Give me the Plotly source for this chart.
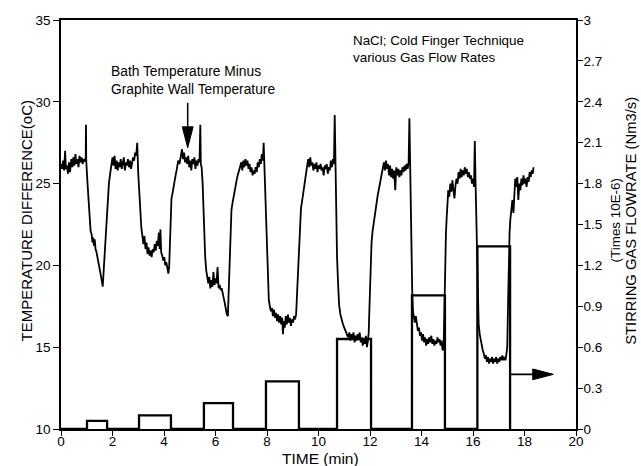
import plotly.graph_objects as go

# ---------------- data ----------------
time_min = [
    0.00, 0.04, 0.08, 0.12, 0.16, 0.19, 0.23, 0.27, 0.31, 0.35, 0.40, 0.44, 0.48, 0.52, 0.56, 0.60,
    0.64, 0.68, 0.72, 0.76, 0.80, 0.84, 0.88, 0.92, 0.96, 0.97, 0.98,
    1.03, 1.07, 1.11, 1.15, 1.19, 1.22, 1.25, 1.28, 1.31, 1.34, 1.38, 1.42, 1.46, 1.50, 1.54, 1.58,
    1.62, 1.65, 1.69, 1.72, 1.75, 1.78, 1.82, 1.86, 1.90, 1.95, 2.00,
    2.04, 2.08, 2.12, 2.16, 2.20, 2.24, 2.28, 2.32, 2.36, 2.40, 2.44, 2.48, 2.52, 2.56, 2.60, 2.64,
    2.68, 2.72, 2.76, 2.80, 2.84, 2.88, 2.92, 2.96,
    3.00, 3.04, 3.08, 3.12, 3.16, 3.20, 3.24, 3.28, 3.32, 3.36, 3.40, 3.44, 3.48, 3.52, 3.56, 3.60,
    3.64, 3.68, 3.72, 3.76, 3.80, 3.83, 3.86, 3.89, 3.93, 3.97, 4.01, 4.05, 4.09, 4.13, 4.17, 4.20,
    4.23, 4.26, 4.29, 4.33, 4.37, 4.41, 4.45, 4.50, 4.55, 4.60, 4.65, 4.70,
    4.74, 4.78, 4.82, 4.86, 4.90, 4.94, 4.98, 5.02, 5.06, 5.10, 5.14, 5.18, 5.22, 5.26, 5.30, 5.34,
    5.38, 5.41, 5.43,
    5.46, 5.50, 5.53, 5.56, 5.60, 5.64, 5.68, 5.72, 5.76, 5.80, 5.84, 5.88, 5.92, 5.96, 6.00, 6.04,
    6.08, 6.12, 6.16, 6.20, 6.24, 6.28, 6.32, 6.36, 6.40, 6.44, 6.48,
    6.52, 6.56, 6.59, 6.62, 6.66, 6.70, 6.74, 6.78, 6.82, 6.86, 6.90, 6.95,
    7.00, 7.04, 7.08, 7.12, 7.16, 7.20, 7.24, 7.28, 7.32, 7.36, 7.40, 7.44, 7.48, 7.52, 7.56, 7.60,
    7.64, 7.68, 7.72, 7.76, 7.80, 7.84, 7.87, 7.90,
    7.94, 7.97, 8.00, 8.03, 8.07, 8.11, 8.15, 8.19, 8.23, 8.27, 8.31, 8.35, 8.39, 8.43, 8.47, 8.51,
    8.55, 8.59, 8.62, 8.65, 8.69, 8.73, 8.77, 8.81, 8.85, 8.89, 8.93, 8.97, 9.01, 9.05, 9.09, 9.13,
    9.18, 9.21, 9.25, 9.28, 9.32, 9.36, 9.40, 9.44, 9.48, 9.52, 9.56, 9.60,
    9.64, 9.68, 9.72, 9.76, 9.80, 9.84, 9.88, 9.92, 9.96, 10.00, 10.04, 10.08, 10.12, 10.16, 10.20,
    10.24, 10.28, 10.32, 10.36, 10.40, 10.44, 10.48, 10.52, 10.56, 10.60, 10.63, 10.66,
    10.69, 10.72, 10.76, 10.80, 10.85, 10.90, 10.95, 11.00, 11.05, 11.10, 11.15, 11.20, 11.24, 11.28,
    11.32, 11.36, 11.40, 11.44, 11.48, 11.52, 11.56, 11.60, 11.64, 11.68, 11.72, 11.76, 11.80, 11.84,
    11.88, 11.92, 11.95,
    11.98, 12.02, 12.06, 12.10, 12.14, 12.18, 12.22, 12.26, 12.30, 12.35, 12.40, 12.45, 12.50,
    12.54, 12.58, 12.62, 12.66, 12.70, 12.74, 12.78, 12.82, 12.86, 12.90, 12.94, 12.98, 13.02, 13.06,
    13.10, 13.14, 13.18, 13.22, 13.26, 13.30, 13.34, 13.38, 13.42, 13.46, 13.50, 13.53, 13.56,
    13.58, 13.61, 13.64, 13.67, 13.70, 13.74, 13.78, 13.82, 13.86, 13.90, 13.94, 13.98, 14.02, 14.06,
    14.10, 14.14, 14.18, 14.22, 14.26, 14.30, 14.34, 14.38, 14.42, 14.46, 14.50, 14.54, 14.58, 14.62,
    14.66, 14.70, 14.74, 14.78, 14.82, 14.86,
    14.89, 14.92, 14.95, 14.98, 15.01, 15.04, 15.08, 15.12, 15.16, 15.20, 15.24, 15.28, 15.32, 15.36,
    15.40, 15.44, 15.48, 15.52, 15.56, 15.60, 15.64, 15.68, 15.72, 15.76, 15.80, 15.84, 15.88, 15.92,
    15.96, 16.00, 16.04, 16.07, 16.10,
    16.13, 16.16, 16.19, 16.22, 16.26, 16.30, 16.34, 16.38, 16.42, 16.46, 16.50, 16.54, 16.58, 16.62,
    16.66, 16.70, 16.74, 16.78, 16.82, 16.86, 16.90, 16.94, 16.98, 17.02, 17.06, 17.10, 17.14, 17.18,
    17.22, 17.26, 17.30, 17.33,
    17.36, 17.39, 17.42, 17.45, 17.49, 17.53, 17.57, 17.60, 17.64, 17.68, 17.72, 17.76, 17.80, 17.84,
    17.88, 17.92, 17.96, 18.00, 18.04, 18.08, 18.12, 18.16, 18.20, 18.24, 18.28, 18.32, 18.35,
]

temp_diff = [
    26.2, 25.9, 26.4, 25.8, 27.0, 25.9, 26.1, 25.6, 26.3, 25.7, 26.5, 26.0, 26.6, 26.1, 26.8, 26.2,
    26.5, 26.0, 26.7, 26.3, 26.6, 26.2, 26.5, 26.4, 26.5, 28.6, 26.4,
    25.0, 23.8, 22.7, 22.1, 21.9, 21.4, 21.7, 21.2, 21.6, 21.0, 20.8, 20.5, 20.1, 19.8, 19.5, 19.1,
    18.7, 19.5, 20.5, 21.6, 22.8, 23.6, 24.4, 25.0, 25.5, 26.0, 26.6,
    26.1, 26.7, 25.9, 26.4, 25.8, 26.3, 26.0, 26.5, 25.9, 26.2, 26.6, 25.8, 26.3, 26.1, 26.5, 26.0,
    26.4, 25.9, 26.3, 26.6, 26.4, 26.9, 26.7, 27.5,
    25.6, 24.3, 23.2, 22.3, 21.8, 21.3, 21.8, 21.0, 21.4, 20.7, 21.1, 20.6, 20.9, 20.5, 21.0, 20.8,
    21.3, 20.9, 21.5, 21.2, 22.0, 21.0, 22.2, 20.8, 20.6, 20.3, 20.5, 20.0, 20.2, 19.7, 19.5, 19.9,
    21.6, 23.2, 24.1, 24.4, 24.7, 25.2, 25.5, 25.9, 26.4, 26.2, 26.8, 27.1,
    26.5, 26.9, 26.3, 26.6, 26.2, 26.7, 26.0, 26.4, 25.8, 26.5, 26.2, 26.6, 25.9, 26.4, 26.1, 26.5,
    26.3, 28.6, 26.2,
    26.0, 25.0, 23.2, 21.8, 20.5, 19.7, 19.4, 18.9, 19.3, 18.6, 19.1, 18.7, 19.6, 18.8, 19.2, 18.9,
    19.9, 18.6, 18.8, 18.5, 18.6, 18.2, 18.0, 17.7, 17.3, 17.0, 16.9,
    18.5, 20.6, 22.3, 23.4, 23.8, 24.2, 24.6, 24.9, 25.2, 25.5, 25.8, 26.0,
    26.3, 25.8, 26.4, 26.0, 26.5, 26.1, 26.4, 25.9, 26.2, 25.7, 26.0, 25.5, 25.8, 25.6, 26.0, 25.7,
    26.3, 26.0, 26.5, 26.2, 26.8, 26.4, 27.5, 26.0,
    24.5, 22.6, 20.4, 18.8, 17.9, 17.5, 17.2, 17.4, 16.9, 17.3, 16.8, 17.1, 16.6, 17.0, 16.5, 16.9,
    16.4, 16.8, 15.8, 16.6, 16.2, 16.9, 16.4, 17.0, 16.5, 16.8, 16.3, 16.7, 16.5, 16.9, 16.7, 17.0,
    18.8, 20.4, 21.9, 22.8, 23.5, 23.9, 24.4, 24.9, 25.3, 25.8, 26.1, 26.5,
    26.0, 26.6, 26.1, 26.3, 25.8, 26.2, 25.9, 26.3, 25.7, 26.1, 25.9, 26.2, 25.8, 26.0, 25.5,
    26.1, 25.9, 26.2, 25.6, 26.0, 25.8, 26.4, 26.0, 26.5, 26.2, 29.2, 26.0,
    23.5, 20.5, 18.9, 17.6, 17.0, 16.6, 16.4, 16.2, 16.0, 15.8, 15.6, 15.9, 15.4, 15.8,
    15.5, 15.9, 15.3, 15.7, 15.4, 15.8, 15.5, 15.9, 15.3, 15.6, 15.1, 15.5, 15.2, 15.7,
    15.0, 15.4, 15.9,
    17.5, 19.6, 21.4, 22.1, 22.6, 23.0, 23.4, 23.8, 24.3, 24.7, 25.1, 25.5, 25.9,
    26.3, 25.8, 26.4, 25.9, 26.2, 25.5, 26.1, 25.4, 25.9, 25.3, 25.8, 24.6, 26.0, 25.5,
    25.9, 25.4, 25.8, 25.5, 26.0, 25.7, 26.1, 25.8, 26.2, 25.9, 26.3, 29.0, 26.0,
    23.0, 20.5, 18.4, 17.2, 16.8, 16.5, 16.9, 16.3, 16.0, 16.2, 15.7, 15.9, 15.4, 15.8,
    15.3, 15.6, 15.1, 15.5, 15.2, 15.6, 15.3, 15.7, 15.2, 15.5, 15.1, 15.4, 15.2, 15.6,
    15.3, 15.5, 15.1, 15.4, 14.8, 15.0,
    18.0, 20.5, 22.0, 23.0, 24.0, 24.6, 24.2, 25.0, 24.5, 25.2, 24.6, 24.1, 24.9, 25.3,
    25.0, 25.7, 25.3, 25.9, 25.4, 25.8, 25.5, 26.0, 25.6, 25.9, 25.4, 25.7, 25.3, 25.5,
    25.0, 25.3, 24.8, 27.6, 25.0,
    22.5, 19.5, 17.5, 16.4, 15.8, 15.4, 15.0, 14.8, 14.6, 14.3, 14.5, 14.1, 14.4, 14.0,
    14.3, 14.1, 14.4, 14.0, 14.3, 14.1, 14.4, 14.0, 14.3, 14.1, 14.4, 14.2, 14.5, 14.2,
    14.4, 14.2, 14.6, 15.0,
    17.5, 20.5, 22.0, 22.8, 23.5, 24.0, 23.2, 24.6, 25.3, 24.8, 25.4, 24.0, 25.0, 24.6,
    25.3, 24.9, 25.5, 25.0, 25.3, 24.8, 25.4, 25.1, 25.7, 25.4, 25.8, 25.6, 26.0,
]

# stirring gas flow rate (times 1E-6 Nm3/s), step changes
flow_time = [0.0, 1.01, 1.79, 3.03, 4.27, 5.55, 6.68, 7.96, 9.24, 10.72, 12.04, 13.63, 14.91, 16.17, 17.44]
flow_rate = [0.0, 0.06, 0.0, 0.10, 0.0, 0.19, 0.0, 0.35, 0.0, 0.66, 0.0, 0.98, 0.0, 1.34, 0.0]

x_ticks = [0, 2, 4, 6, 8, 10, 12, 14, 16, 18, 20]
y_ticks = [10, 15, 20, 25, 30, 35]
y2_ticks = [0, 0.3, 0.6, 0.9, 1.2, 1.5, 1.8, 2.1, 2.4, 2.7, 3]
y2_labels = ["0", "0.3", "0.6", "0.9", "1.2", "1.5", "1.8", "2.1", "2.4", "2.7", "3"]

label_bath = "Bath Temperature Minus<br>Graphite Wall Temperature"
label_nacl = "NaCl; Cold Finger Technique<br>various Gas Flow Rates"

FONT = "Liberation Sans, Arial, sans-serif"

fig = go.Figure()

fig.add_trace(go.Scatter(
    x=time_min, y=temp_diff, mode="lines",
    line=dict(color="black", width=1.8),
    showlegend=False, hoverinfo="skip",
))

fig.add_trace(go.Scatter(
    x=flow_time, y=flow_rate, mode="lines", yaxis="y2",
    line=dict(color="black", width=2.3, shape="hv"),
    showlegend=False, hoverinfo="skip",
))

# arrows (decorations)
down_arrow_x = 4.92
right_arrow_y = 13.34
fig.add_shape(type="line", xref="x", yref="y",
              x0=down_arrow_x, x1=down_arrow_x, y0=29.94, y1=28.3,
              line=dict(color="black", width=1.5))
fig.add_shape(type="path", xref="x", yref="y",
              path=f"M {down_arrow_x-0.21},28.47 L {down_arrow_x+0.21},28.47 L {down_arrow_x},27.19 Z",
              fillcolor="black", line=dict(color="black", width=1))
fig.add_shape(type="line", xref="x", yref="y",
              x0=17.41, x1=18.5, y0=right_arrow_y, y1=right_arrow_y,
              line=dict(color="black", width=1.8))
fig.add_shape(type="path", xref="x", yref="y",
              path=f"M 18.32,{right_arrow_y+0.33} L 18.32,{right_arrow_y-0.33} L 19.12,{right_arrow_y} Z",
              fillcolor="black", line=dict(color="black", width=1))

annos = [
    dict(text=label_bath, x=1.88, y=31.3, xref="x", yref="y", xanchor="left", yanchor="middle",
         align="left", showarrow=False, font=dict(size=13.8, family=FONT, color="black")),
    dict(text=label_nacl, x=11.28, y=33.2, xref="x", yref="y", xanchor="left", yanchor="middle",
         align="left", showarrow=False, font=dict(size=13.4, family=FONT, color="black")),
    dict(text="TEMPERATURE DIFFERENCE(oC)", x=-0.068, y=0.51, xref="paper", yref="paper",
         xanchor="center", yanchor="middle", textangle=-90, showarrow=False,
         font=dict(size=15, family=FONT, color="black")),
    dict(text="(Times 10E-6)", x=1.0757, y=0.51, xref="paper", yref="paper",
         xanchor="center", yanchor="middle", textangle=-90, showarrow=False,
         font=dict(size=13.4, family=FONT, color="black")),
    dict(text="STIRRING GAS FLOWRATE (Nm3/s)", x=1.108, y=0.508, xref="paper", yref="paper",
         xanchor="center", yanchor="middle", textangle=-90, showarrow=False,
         font=dict(size=14.8, family=FONT, color="black")),
    dict(text="TIME (min)", x=0.503, y=-0.072, xref="paper", yref="paper",
         xanchor="center", yanchor="middle", showarrow=False,
         font=dict(size=15.5, family=FONT, color="black")),
]

fig.update_layout(
    width=641, height=466,
    margin=dict(l=61, r=65, t=20, b=37),
    paper_bgcolor="white", plot_bgcolor="white",
    font=dict(family=FONT, size=14, color="black"),
    showlegend=False,
    annotations=annos,
    xaxis=dict(range=[0, 20], tickvals=x_ticks, ticks="outside", ticklen=5, tickwidth=1.2,
               tickcolor="black", showline=True, linecolor="black", linewidth=1.5, mirror=True,
               showgrid=False, zeroline=False, tickfont=dict(size=13.5), ticklabelstandoff=-6),
    yaxis=dict(range=[10, 35], tickvals=y_ticks, ticks="outside", ticklen=6, tickwidth=1.2,
               tickcolor="black", showline=True, linecolor="black", linewidth=1.5, mirror=True,
               showgrid=False, zeroline=False, tickfont=dict(size=13.5)),
    yaxis2=dict(range=[0, 3], tickvals=y2_ticks, ticktext=y2_labels, overlaying="y", side="right",
                ticks="outside", ticklen=5, tickwidth=1.2, tickcolor="black", showline=True,
                linecolor="black", linewidth=1.5, showgrid=False, zeroline=False,
                tickfont=dict(size=13.5), ticklabelstandoff=-2),
)

fig.write_html("out.html")
